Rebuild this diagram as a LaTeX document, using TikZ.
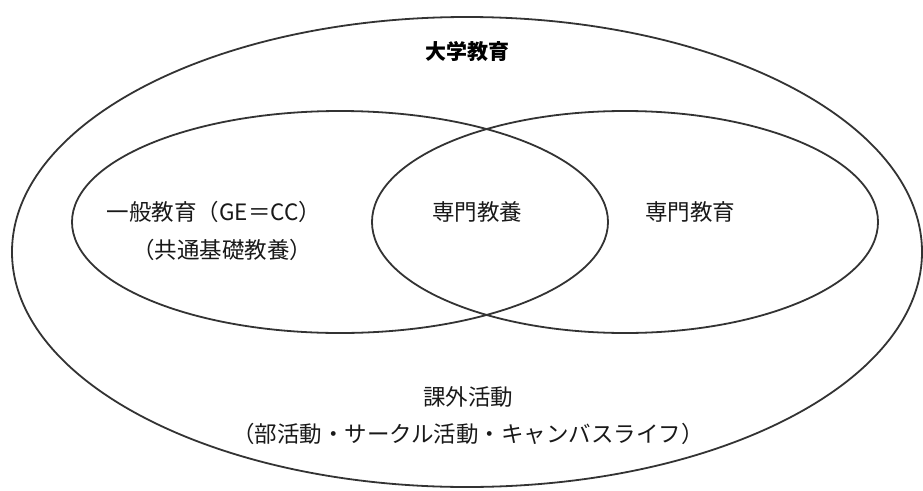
\documentclass[tikz,border=0pt]{standalone}
\usepackage{fontspec}
\setmainfont{Noto Sans CJK JP}
\usetikzlibrary{shapes.geometric}
\tikzset{
  ring/.style={draw=black!80, line width=1.8pt},
  lbl/.style={text=black!90, font=\fontsize{22.5}{26}\selectfont, inner sep=0pt},
  title/.style={text=black, font=\fontsize{21}{25}\selectfont\bfseries, inner sep=0pt}
}
\begin{document}
\begin{tikzpicture}[x=1pt,y=-1pt]
\useasboundingbox (0,0) rectangle (923,490);
\fill[white] (0,0) rectangle (923,490);
\draw[ring] (467,252) ellipse [x radius=455, y radius=235];
\draw[ring] (340,222) ellipse [x radius=268, y radius=111];
\draw[ring] (625,222) ellipse [x radius=253, y radius=111];
\node[title] (univ) at (467,52) {大学教育};
\node[lbl] (ge) at (214,212) {一般教育（GE＝CC）};
\node[lbl] (kyotsu) at (222,250) {（共通基礎教養）};
\node[lbl] (senmonkyoyo) at (477,212) {専門教養};
\node[lbl] (senmonkyoiku) at (690,212) {専門教育};
\node[lbl] (kagai) at (468,397) {課外活動};
\node[lbl] (katsudo) at (468,434) {（部活動・サークル活動・キャンバスライフ）};
\end{tikzpicture}
\end{document}
